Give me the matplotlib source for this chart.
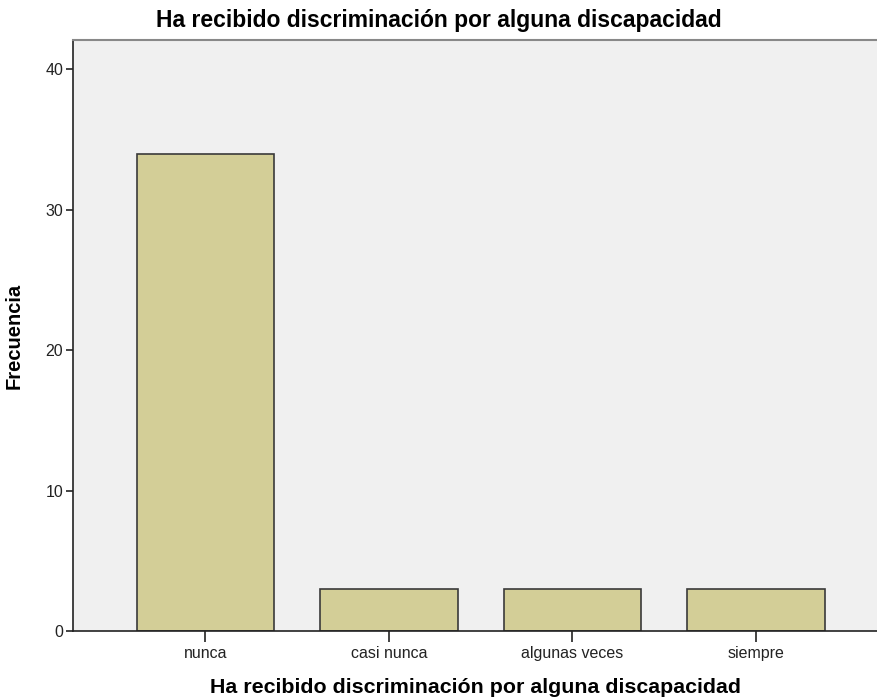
import matplotlib
matplotlib.use("Agg")
import matplotlib.pyplot as plt

categories = ["nunca", "casi nunca", "algunas veces", "siempre"]
values = [34, 3, 3, 3]
yticks = [0, 10, 20, 30, 40]
title = "Ha recibido discriminación por alguna discapacidad"

plt.rcParams['font.family'] = ['Liberation Sans', 'DejaVu Sans']

fig = plt.figure(figsize=(8.78, 6.98), dpi=100)
ax = fig.add_axes([73/878, 1-631/698, 1-73/878, (631-40)/698])
ax.set_facecolor('#F0F0F0')
x = range(len(categories))
ax.bar(x, values, width=0.747, color='#D3CE97', edgecolor='#3A3A3A', linewidth=1.2, zorder=2)
ax.set_xlim(-0.722, 3.665)
ax.set_ylim(0, 42.1)
ax.set_yticks(yticks)
ax.set_xticks(list(x))
ax.set_xticklabels(categories)
ax.tick_params(axis='y', length=5, width=1.2, labelsize=11.5, pad=2, color='#222222', labelcolor='#222222')
ax.tick_params(axis='x', length=8, width=1.2, labelsize=11.5, pad=3, color='#222222', labelcolor='#222222')
ax.spines['right'].set_visible(False)
ax.spines['top'].set_color('#888888')
ax.spines['top'].set_linewidth(1.5)
for s in ['left', 'bottom']:
    ax.spines[s].set_color('#222222')
    ax.spines[s].set_linewidth(1.2)
ax.set_xlabel(title, fontsize=15.4, fontweight='bold', labelpad=12)
ax.set_ylabel("Frecuencia", fontsize=14.5, fontweight='bold', labelpad=16)
fig.text(0.5, 1-21/698, title, ha='center', va='center', fontsize=16.5, fontweight='bold')
fig.savefig("out.png", dpi=100)
